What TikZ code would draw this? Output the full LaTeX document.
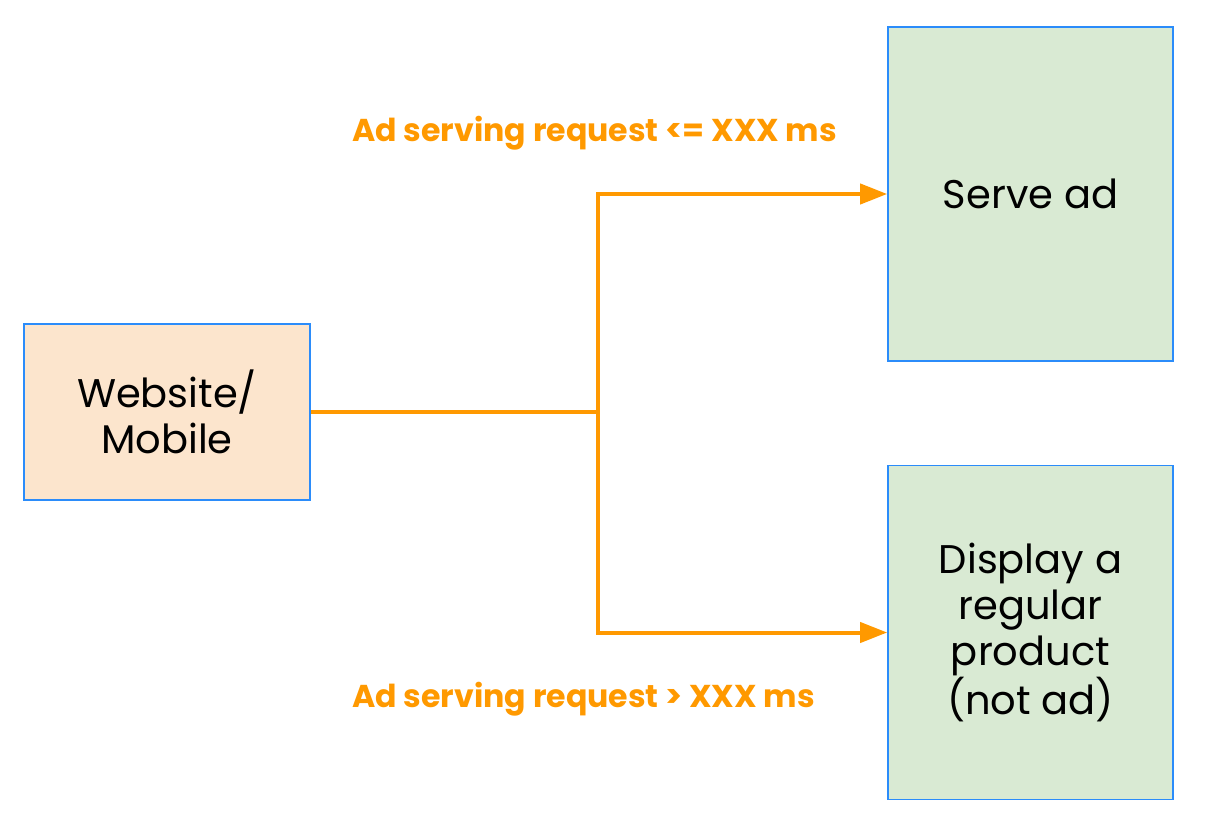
\documentclass[tikz,border=0pt]{standalone}
\usepackage{fontspec}
\setmainfont{Poppins}
\usepackage{tikz}
\usetikzlibrary{arrows.meta}
\definecolor{boxblue}{HTML}{2B8CFA}
\definecolor{adorange}{HTML}{FF9900}
\definecolor{peach}{HTML}{FCE5CD}
\definecolor{palegreen}{HTML}{D9EAD3}
\tikzset{>={Triangle[width=10pt,length=13.5pt]}}
\tikzset{
  block/.style={draw=boxblue, line width=0.8pt, align=center,
    font=\fontsize{20}{23}\selectfont, inner sep=0pt},
  flow/.style={draw=adorange, line width=2pt},
  cond/.style={text=adorange, font=\fontsize{15.8}{18}\selectfont\bfseries,
    anchor=west, inner sep=0pt}
}

\begin{document}
\begin{tikzpicture}[x=0.5pt, y=-0.5pt]

  \useasboundingbox (0,0) rectangle (1218,818);

  % boxes
  \node[block, fill=peach, minimum width=143pt, minimum height=88pt]
    (client) at (167,412) {Website/\\Mobile};
  \node[block, fill=palegreen, minimum width=142.5pt, minimum height=167pt]
    (serve) at (1030.5,194) {Serve ad};
  \node[block, fill=palegreen, minimum width=142.5pt, minimum height=167pt]
    (regular) at (1030.5,632.5) {Display a\\regular\\product\\(not ad)};

  \coordinate (split) at (598,412);

  % connectors
  \draw[flow] (client.east) -- (split);
  \draw[flow, ->] (split) |- (serve.west);
  \draw[flow, ->] (split) |- (regular.west);

  % conditions
  \node[cond] (fast) at (352,133) {Ad serving request <= XXX ms};
  \node[cond] (slow) at (352,699) {Ad serving request > XXX ms};

\end{tikzpicture}
\end{document}
